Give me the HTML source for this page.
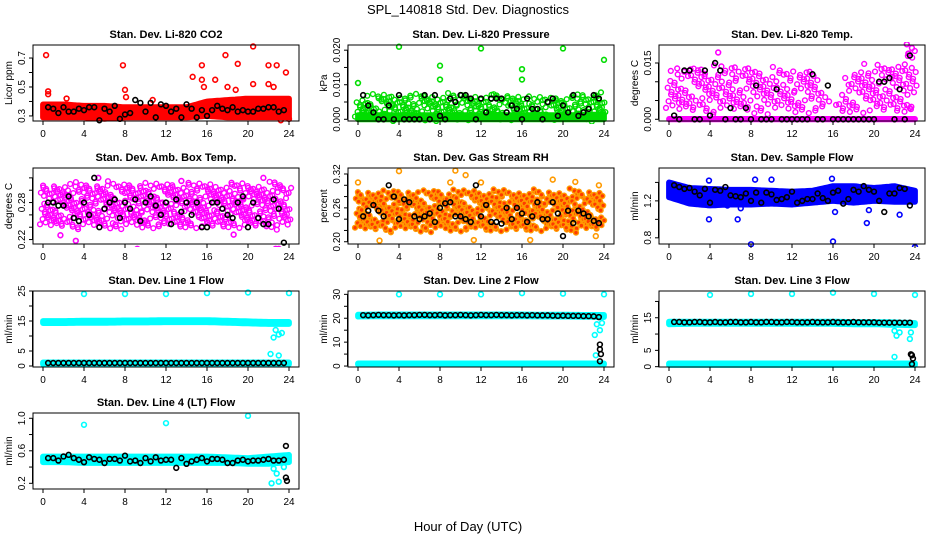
<!DOCTYPE html>
<html><head><meta charset="utf-8"><style>
html,body{margin:0;padding:0;background:#fff;}
svg{display:block;font-family:"Liberation Sans",Arial,sans-serif;}
</style></head><body>
<svg id="chart" width="936" height="540" viewBox="0 0 936 540" xmlns="http://www.w3.org/2000/svg">
<text x="468" y="14" text-anchor="middle" font-size="13">SPL_140818  Std. Dev. Diagnostics</text>
<text x="468" y="531" text-anchor="middle" font-size="13">Hour of Day (UTC)</text>
</svg>
<script>
// shared categories
const blackHours = [0.5,1,1.5,2,2.5,3,3.5,4,4.5,5,5.5,6,6.5,7,7.5,8,8.5,9,9.5,10,10.5,11,11.5,12,12.5,13,13.5,14,14.5,15,15.5,16,16.5,17,17.5,18,18.5,19,19.5,20,20.5,21,21.5,22,22.5,23,23.5];
const bandHours = [0,2,4,6,8,10,12,14,16,18,20,22,24];
const xTicks = [0,4,8,12,16,20,24];

// P1 CO2
const co2Black = [0.36,0.35,0.32,0.36,0.33,0.33,0.35,0.34,0.36,0.36,0.27,0.35,0.33,0.37,0.28,0.31,0.32,0.41,0.39,0.33,0.39,0.29,0.38,0.37,0.33,0.35,0.29,0.38,0.35,0.29,0.34,0.30,0.34,0.37,0.35,0.34,0.36,0.33,0.34,0.33,0.33,0.35,0.35,0.36,0.36,0.33,0.34];
const co2Lo = [0.29,0.29,0.29,0.28,0.29,0.29,0.29,0.29,0.30,0.29,0.29,0.29,0.29];
const co2Hi = [0.38,0.38,0.37,0.37,0.36,0.36,0.36,0.36,0.40,0.41,0.42,0.42,0.42];
const co2OutX = [0.3,0.5,0.5,7.8,8,8.1,14.6,15.5,15.5,15.7,16.8,17.8,19,20.5,20.5,22,22.8,23.7,22,22.5,18,18.8,23.2,24,2.3,10.7];
const co2OutY = [0.72,0.47,0.45,0.65,0.48,0.43,0.57,0.65,0.55,0.50,0.55,0.72,0.66,0.78,0.52,0.65,0.65,0.60,0.52,0.50,0.50,0.48,0.27,0.28,0.42,0.41];

// P2 pressure
const presBlack = [0.007,0.004,0.002,0.000,0.000,0.004,0.000,0.007,0.000,0.000,0.000,0.000,0.007,0.000,0.007,0.001,0.000,0.006,0.005,0.007,0.007,0.006,0.000,0.006,0.002,0.006,0.006,0.006,0.002,0.004,0.003,0.000,0.006,0.003,0.003,0.000,0.005,0.006,0.001,0.004,0.002,0.007,0.001,0.002,0.003,0.007,0.006];
const presLo = [0,0,0,0,0,0,0,0,0,0,0,0,0];
const presDenseHi = [0.0012,0.0012,0.0012,0.0012,0.0012,0.0012,0.0012,0.0012,0.0012,0.0012,0.0012,0.0012,0.0015];
const presHi = [0.006,0.007,0.007,0.007,0.007,0.007,0.007,0.007,0.007,0.006,0.007,0.007,0.008];
const presOutX = [0,4,8,8,12,16,16,20,24];
const presOutY = [0.0105,0.021,0.0155,0.0115,0.0205,0.0145,0.0115,0.0205,0.0172];

// P3 Li-820 temp
const tempBlack = [0.001,0,0.013,0.013,0,0,0.013,0.001,0.015,0.013,0,0.003,0,0,0.003,0,0.009,0,0,0,0.008,0,0,0,0,0,0,0.012,0,0,0.009,0,0,0,0,0,0,0,0,0,0.010,0.010,0.011,0,0.008,0,0.017];
const tempZero = [0,0,0,0,0,0,0,0,0,0,0,0,0];
const tempZeroHi = [0.0001,0.0001,0.0001,0.0001,0.0001,0.0001,0.0001,0.0001,0.0001,0.0001,0.0001,0.0001,0.0001];
const tempLo = [0.002,0.002,0.002,0.002,0.002,0.002,0.002,0.002,0.002,0.002,0.002,0.002,0.002];
const tempHi = [0.012,0.014,0.014,0.014,0.014,0.013,0.013,0.014,0.002,0.014,0.014,0.014,0.018];
const tempOutX = [4.8,23.2,23.4,23.7,23.5];
const tempOutY = [0.0178,0.020,0.0175,0.019,0.003];

// P4 amb box temp
const ambBlack = [0.28,0.28,0.275,0.275,0.29,0.255,0.25,0.28,0.26,0.32,0.24,0.27,0.28,0.285,0.255,0.28,0.27,0.285,0.25,0.28,0.29,0.275,0.26,0.28,0.245,0.285,0.265,0.28,0.26,0.28,0.24,0.24,0.28,0.28,0.27,0.26,0.255,0.28,0.29,0.24,0.28,0.255,0.245,0.245,0.285,0.27,0.215];
const ambLo = [0.24,0.24,0.24,0.24,0.24,0.24,0.24,0.24,0.24,0.24,0.24,0.24,0.24];
const ambHi = [0.31,0.31,0.31,0.31,0.31,0.31,0.31,0.31,0.31,0.31,0.31,0.31,0.31];
const ambOutX = [3.2,9.2,22.7,23,5.4,21.5,18.6,1.7,13.5];
const ambOutY = [0.218,0.205,0.205,0.205,0.32,0.32,0.228,0.227,0.315];

// P5 RH
const rhBlack = [0.245,0.255,0.265,0.255,0.245,0.30,0.28,0.24,0.275,0.27,0.245,0.24,0.245,0.25,0.235,0.26,0.268,0.27,0.245,0.245,0.24,0.235,0.30,0.245,0.265,0.235,0.235,0.232,0.26,0.24,0.26,0.25,0.235,0.245,0.27,0.24,0.24,0.27,0.25,0.21,0.255,0.233,0.255,0.25,0.245,0.237,0.233];
const rhLo = [0.22,0.22,0.22,0.22,0.22,0.22,0.22,0.22,0.22,0.22,0.22,0.22,0.22];
const rhHi = [0.29,0.29,0.29,0.29,0.29,0.29,0.29,0.29,0.29,0.29,0.29,0.29,0.29];
const rhOutX = [0,4,9.5,10.5,2.1,11.3,16.8,21.2,19,23.5,23.2,9,12];
const rhOutY = [0.305,0.325,0.326,0.318,0.202,0.203,0.203,0.306,0.31,0.30,0.21,0.305,0.305];

// P6 sample flow
const sfBlack = [1.37,1.35,1.33,1.34,1.30,1.26,1.33,1.18,1.32,1.31,1.35,1.26,1.25,1.24,1.28,1.20,1.29,1.18,1.29,1.27,1.21,1.22,1.24,1.30,1.18,1.20,1.22,1.22,1.28,1.23,1.20,1.29,1.31,1.17,1.22,1.32,1.30,1.36,1.32,1.30,1.20,1.08,1.28,1.28,1.34,1.33,1.15];
const sfLo = [1.24,1.17,1.15,1.16,1.16,1.17,1.16,1.18,1.20,1.18,1.20,1.19,1.19];
const sfHi = [1.40,1.34,1.33,1.32,1.32,1.31,1.30,1.31,1.36,1.36,1.34,1.36,1.31];
const sfOutX = [3.9,3.9,6.7,8,16,15.9,19.3,22.5,24,10,8.4,5.7,7,16.2,19.5];
const sfOutY = [1.0,1.42,1.0,0.73,0.76,1.44,0.96,1.05,0.70,1.43,1.43,1.15,1.12,1.08,1.1];

// P7 line 1
const l1Black = [1,1,1,1,1,1,1,1,1,1,1,1,1,1,1,1,1,1,1,1,1,1,1,1,1,1,1,1,1,1,1,1,1,1,1,1,1,1,1,1,1,1,1,1,1,1,1];
const l1Lo = [14.3,14.3,14.4,14.4,14.5,14.5,14.6,14.6,14.6,14.4,14.2,14.0,14.0];
const l1Hi = [15.0,15.0,15.1,15.1,15.2,15.2,15.3,15.3,15.3,15.1,14.9,14.7,14.7];
const l1BaseLo = [0.6,0.6,0.6,0.6,0.6,0.6,0.6,0.6,0.6,0.6,0.6,0.6,0.6];
const l1BaseHi = [1.2,1.2,1.2,1.2,1.2,1.2,1.2,1.2,1.2,1.2,1.2,1.2,1.2];
const l1OutX = [4,8,12,16,20,24,22.2,22.5,22.7,23,23.3,23];
const l1OutY = [24,24,24,24.3,24.5,24.3,4,9.5,12,10.5,11,3.5];

// P8 line 2
const l2Black = [21.3,21.2,21.3,21.4,21.3,21.3,21.2,21.3,21.2,21.3,21.3,21.4,21.4,21.3,21.3,21.4,21.2,21.3,21.3,21.4,21.3,21.2,21.3,21.4,21.3,21.3,21.4,21.3,21.3,21.2,21.3,21.3,21.2,21.3,21.2,21.2,21.2,21.1,21.0,21.1,21.0,21.0,21.0,20.9,20.9,20.8,20.5];
const l2Lo = [20.7,20.8,20.8,20.8,20.8,20.8,20.8,20.8,20.8,20.7,20.7,20.6,20.5];
const l2Hi = [21.5,21.6,21.6,21.6,21.6,21.6,21.6,21.6,21.6,21.5,21.5,21.4,21.4];
const l2BaseLo = [0.6,0.6,0.6,0.6,0.6,0.6,0.6,0.6,0.6,0.6,0.6,0.6,0.6];
const l2BaseHi = [1.1,1.1,1.1,1.1,1.1,1.1,1.1,1.1,1.1,1.1,1.1,1.1,1.1];
const l2OutX = [4,8,12,16,20,24,23.1,23.3,23.6,23.8,23.2,23.5];
const l2OutY = [30,30,30,30.5,30.3,30,13,17.5,15,18,4.5,20.5];
const l2EndX = [23.6,23.6,23.7,23.6];
const l2EndY = [9,7,5,2];

// P9 line 3
const l3Black = [13.7,13.7,13.6,13.6,13.7,13.7,13.6,13.6,13.7,13.6,13.6,13.7,13.7,13.6,13.6,13.7,13.6,13.6,13.7,13.7,13.6,13.6,13.7,13.7,13.6,13.6,13.6,13.7,13.6,13.6,13.6,13.7,13.6,13.6,13.6,13.7,13.6,13.6,13.6,13.6,13.5,13.5,13.5,13.5,13.5,13.5,13.5];
const l3Lo = [13.0,13.1,13.1,13.1,13.1,13.1,13.1,13.1,13.1,13.0,13.0,12.8,12.7];
const l3Hi = [13.8,13.8,13.8,13.8,13.8,13.8,13.8,13.8,13.8,13.7,13.7,13.6,13.4];
const l3BaseLo = [0.5,0.5,0.5,0.5,0.5,0.5,0.5,0.5,0.5,0.5,0.5,0.5,0.5];
const l3BaseHi = [1.0,1.0,1.0,1.0,1.0,1.0,1.0,1.0,1.0,1.0,1.0,1.0,1.0];
const l3OutX = [4,8,12,16,20,24,22,22.2,22.5,23.5,23.6,22];
const l3OutY = [22,22.3,22.3,22.7,22.3,22,11,9.5,10.5,8.5,10.5,3];
const l3EndX = [23.7,23.8,23.7,23.6];
const l3EndY = [3.5,2.5,0.8,3.8];

// P10 line 4
const l4Black = [0.51,0.51,0.48,0.53,0.55,0.51,0.49,0.46,0.52,0.50,0.49,0.45,0.50,0.50,0.48,0.54,0.47,0.48,0.45,0.51,0.47,0.52,0.48,0.49,0.49,0.39,0.51,0.44,0.47,0.49,0.51,0.47,0.50,0.50,0.49,0.45,0.45,0.48,0.49,0.47,0.48,0.48,0.49,0.50,0.48,0.48,0.49];
const l4Lo = [0.46,0.46,0.45,0.45,0.45,0.45,0.45,0.45,0.45,0.45,0.44,0.44,0.46];
const l4Hi = [0.53,0.53,0.53,0.53,0.53,0.53,0.53,0.53,0.53,0.52,0.51,0.53,0.55];
const l4OutX = [4,12,20,22.3,22.5,22.8,23,23.5,23.9];
const l4OutY = [0.92,0.94,1.03,0.2,0.38,0.32,0.22,0.4,0.5];
const l4EndX = [23.7,23.7,23.8];
const l4EndY = [0.66,0.27,0.23];

const svg = document.getElementById('chart');
const NS = 'http://www.w3.org/2000/svg';
const colLeft = [33,348,659], rowTop = [45,168,291,413], boxW = 266, boxH = 76;

function mk(tag, attrs, parent){
  const e = document.createElementNS(NS, tag);
  for (const k in attrs) e.setAttribute(k, attrs[k]);
  (parent||svg).appendChild(e);
  return e;
}
function interp(arrX, arrY, x){
  for (let i=0;i<arrX.length-1;i++){
    if (x>=arrX[i] && x<=arrX[i+1]){ const t=(x-arrX[i])/(arrX[i+1]-arrX[i]); return arrY[i]+t*(arrY[i+1]-arrY[i]); }
  }
  return arrY[arrY.length-1];
}

const panels = [
 {name:'co2', title:'Stan. Dev. Li-820 CO2', ylab:'Licor ppm', col:0,row:0, dom:[0.265,0.79], ticks:[0.3,0.4,0.5,0.6,0.7], labs:[0.3,0.5,0.7], fmt:1, color:'#ff0000',
  dense:[[co2Lo,co2Hi]], sparse:[], outX:co2OutX, outY:co2OutY, black:co2Black},
 {name:'pressure', title:'Stan. Dev. Li-820 Pressure', ylab:'kPa', col:1,row:0, dom:[-0.0005,0.0215], ticks:[0,0.005,0.01,0.015,0.02], labs:[0,0.01,0.02], fmt:3, color:'#00dd00',
  dense:[[presLo,presDenseHi]], sparse:[[presLo,presHi]], sx:0.3, sy:6, outX:presOutX, outY:presOutY, black:presBlack},
 {name:'li820-temp', title:'Stan. Dev. Li-820 Temp.', ylab:'degrees C', col:2,row:0, dom:[-0.00046,0.0198], ticks:[0,0.005,0.01,0.015], labs:[0,0.015], fmt:3, color:'#ff00ff',
  dense:[[tempZero,tempZeroHi]], sparse:[[tempLo,tempHi]], sx:0.38, sy:8.5, outX:tempOutX, outY:tempOutY, black:tempBlack},
 {name:'amb-box-temp', title:'Stan. Dev. Amb. Box Temp.', ylab:'degrees C', col:0,row:1, dom:[0.2128,0.336], ticks:[0.22,0.24,0.26,0.28,0.30,0.32], labs:[0.22,0.28], fmt:2, color:'#ff00ff',
  dense:[], sparse:[[ambLo,ambHi]], sx:0.3, sy:6.5, outX:ambOutX, outY:ambOutY, black:ambBlack},
 {name:'gas-stream-rh', title:'Stan. Dev. Gas Stream RH', ylab:'percent', col:1,row:1, dom:[0.196,0.3306], ticks:[0.20,0.22,0.24,0.26,0.28,0.30,0.32], labs:[0.20,0.26,0.32], fmt:2, color:'#ff9a00', fill:'#ff3a00',
  dense:[], sparse:[[rhLo,rhHi]], sx:0.28, sy:6, outX:rhOutX, outY:rhOutY, black:rhBlack},
 {name:'sample-flow', title:'Stan. Dev. Sample Flow', ylab:'ml/min', col:2,row:1, dom:[0.733,1.556], ticks:[0.8,1.0,1.2,1.4], labs:[0.8,1.2], fmt:1, color:'#0000ff',
  dense:[[sfLo,sfHi]], sparse:[], outX:sfOutX, outY:sfOutY, black:sfBlack},
 {name:'line1-flow', title:'Stan. Dev. Line 1 Flow', ylab:'ml/min', col:0,row:2, dom:[-0.33,25.0], ticks:[0,5,10,15,20,25], labs:[0,5,15,25], fmt:0, color:'#00ffff',
  dense:[[l1Lo,l1Hi],[l1BaseLo,l1BaseHi]], sparse:[], outX:l1OutX, outY:l1OutY, black:l1Black},
 {name:'line2-flow', title:'Stan. Dev. Line 2 Flow', ylab:'ml/min', col:1,row:2, dom:[-0.4,31.4], ticks:[0,5,10,15,20,25,30], labs:[0,10,20,30], fmt:0, color:'#00ffff',
  dense:[[l2Lo,l2Hi],[l2BaseLo,l2BaseHi]], sparse:[], outX:l2OutX, outY:l2OutY, black:l2Black, endX:l2EndX, endY:l2EndY},
 {name:'line3-flow', title:'Stan. Dev. Line 3 Flow', ylab:'ml/min', col:2,row:2, dom:[-0.1,23.2], ticks:[0,5,10,15,20], labs:[0,5,15], fmt:0, color:'#00ffff',
  dense:[[l3Lo,l3Hi],[l3BaseLo,l3BaseHi]], sparse:[], outX:l3OutX, outY:l3OutY, black:l3Black, endX:l3EndX, endY:l3EndY},
 {name:'line4-flow', title:'Stan. Dev. Line 4 (LT) Flow', ylab:'ml/min', col:0,row:3, dom:[0.13,1.065], ticks:[0.2,0.4,0.6,0.8,1.0], labs:[0.2,0.6,1.0], fmt:1, color:'#00ffff',
  dense:[[l4Lo,l4Hi]], sparse:[], outX:l4OutX, outY:l4OutY, black:l4Black, endX:l4EndX, endY:l4EndY}
];

const R = 2.4;
panels.forEach(p => {
  const L = colLeft[p.col], T = rowTop[p.row], B = T + boxH;
  const xs = h => L + 10 + h/24*(boxW-20);
  const ys = v => B - (v - p.dom[0])/(p.dom[1]-p.dom[0])*boxH;
  const g = mk('g', {});
  
  
  const clipId = 'clip-' + p.name;
  const cp = mk('clipPath', {id: clipId}, g);
  mk('rect', {x:L, y:T-3, width:boxW, height:boxH+6}, cp);
  const plot = mk('g', {'clip-path':'url(#'+clipId+')'}, g);

  p.dense.forEach(([lo,hi]) => {
    let top = [], bot = [];
    for (let h=0; h<=24.0001; h+=0.25){
      top.push((xs(h)).toFixed(1)+','+(ys(interp(bandHours,hi,h))).toFixed(1));
      bot.unshift((xs(h)).toFixed(1)+','+(ys(interp(bandHours,lo,h))).toFixed(1));
    }
    const poly = mk('polygon', {points: top.concat(bot).join(' '), fill:p.color, stroke:p.color, 'stroke-width':R*2+1, 'stroke-linejoin':'round'}, plot);
    
    
  });
  // sparse clouds: scattered circles with irregular (hashed) offsets
  p.sparse.forEach(([lo,hi]) => {
    let i = 0;
    for (let h=0; h<=24.0001; h+=p.sx, i++){
      const yl = ys(interp(bandHours,lo,h)), yh = ys(interp(bandHours,hi,h));
      let j = 0;
      for (let y = yl - ((i*37)%11)/11*p.sy; y >= yh; y -= p.sy, j++){
        const dy = (((i*53 + j*29) % 13) / 13 - 0.5) * p.sy * 0.9;
        const dx = (((i*31 + j*17) % 7) / 7 - 0.5) * 6;
        const c = mk('circle', {cx:(xs(h)+dx).toFixed(1), cy:(y+dy).toFixed(1), r:R, fill:p.fill||'none', stroke:p.color, 'stroke-width':1.4}, plot);
        
        
      }
    }
  });
  p.outX.forEach((h, k) => {
    const c = mk('circle', {cx:xs(h), cy:ys(p.outY[k]), r:R, fill:'none', stroke:p.color, 'stroke-width':1.6}, plot);
    
    
  });
  p.black.forEach((v, k) => {
    const c = mk('circle', {cx:xs(blackHours[k]), cy:ys(v), r:R, fill:'none', stroke:'#000', 'stroke-width':1.6}, plot);
    
    
  });
  if (p.endX) p.endX.forEach((h, k) => {
    const c = mk('circle', {cx:xs(h), cy:ys(p.endY[k]), r:R, fill:'none', stroke:'#000', 'stroke-width':1.6}, plot);
    
    
  });

  const box = mk('rect', {x:L, y:T, width:boxW, height:boxH, fill:'none', stroke:'#000', 'stroke-width':1}, g);
  
  
  const t = mk('text', {x:L+boxW/2, y:T-7, 'text-anchor':'middle', 'font-size':11, 'font-weight':'bold'}, g);
  t.textContent = p.title;
  
  
  xTicks.forEach(h => {
    mk('line', {x1:xs(h), x2:xs(h), y1:B, y2:B+4, stroke:'#000'}, g);
    const tl = mk('text', {x:xs(h), y:B+16, 'text-anchor':'middle', 'font-size':10}, g);
    tl.textContent = h;
    
    
  });
  const y0 = ys(p.ticks[0]), y1 = ys(p.ticks[p.ticks.length-1]);
  mk('line', {x1:L-0.5, x2:L-0.5, y1:y0, y2:y1, stroke:'#000'}, g);
  p.ticks.forEach(v => {
    mk('line', {x1:L, x2:L-4, y1:ys(v), y2:ys(v), stroke:'#000'}, g);
  });
  p.labs.forEach(v => {
    const yy = ys(v);
    const tl = mk('text', {x:L-8, y:yy, 'text-anchor':'middle', 'font-size':10, transform:'rotate(-90 '+(L-8)+' '+yy+')'}, g);
    tl.textContent = v.toFixed(p.fmt);
    
    
  });
  const yt = mk('text', {x:L-21, y:T+boxH/2, 'text-anchor':'middle', 'font-size':10, transform:'rotate(-90 '+(L-21)+' '+(T+boxH/2)+')'}, g);
  yt.textContent = p.ylab;
  
  
});
</script>
</body></html>
